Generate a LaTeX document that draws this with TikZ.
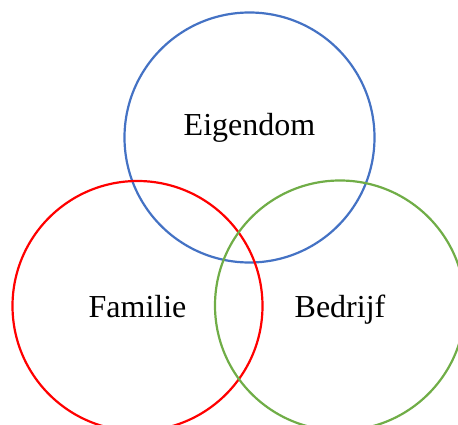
\documentclass[tikz,border=0pt]{standalone}
\usepackage{fontspec}
\setmainfont{Liberation Serif}
\definecolor{ringblue}{HTML}{4472C4}
\definecolor{ringred}{HTML}{FF0000}
\definecolor{ringgreen}{HTML}{70AD47}
\begin{document}
\begin{tikzpicture}[x=1pt,y=-1pt,
  ring/.style={circle,draw,line width=2.2pt,minimum size=250pt,inner sep=0pt},
  label/.style={font=\fontsize{32}{38}\selectfont,anchor=base,inner sep=0pt}]
\useasboundingbox (0,0) rectangle (458,425);
\clip (0,0) rectangle (458,425);
% the three overlapping rings
\node[ring,draw=ringblue] (own) at (249.5,137.5) {};
\node[ring,draw=ringred] (fam) at (137.5,306) {};
\node[ring,draw=ringgreen] (biz) at (340,305.5) {};
% labels, placed on their baselines
\node[label] (ownt) at (249.5,136) {Eigendom};
\node[label] (famt) at (137.5,317) {Familie};
\node[label] (bizt) at (340,317.5) {Bedrijf};
\end{tikzpicture}
\end{document}
